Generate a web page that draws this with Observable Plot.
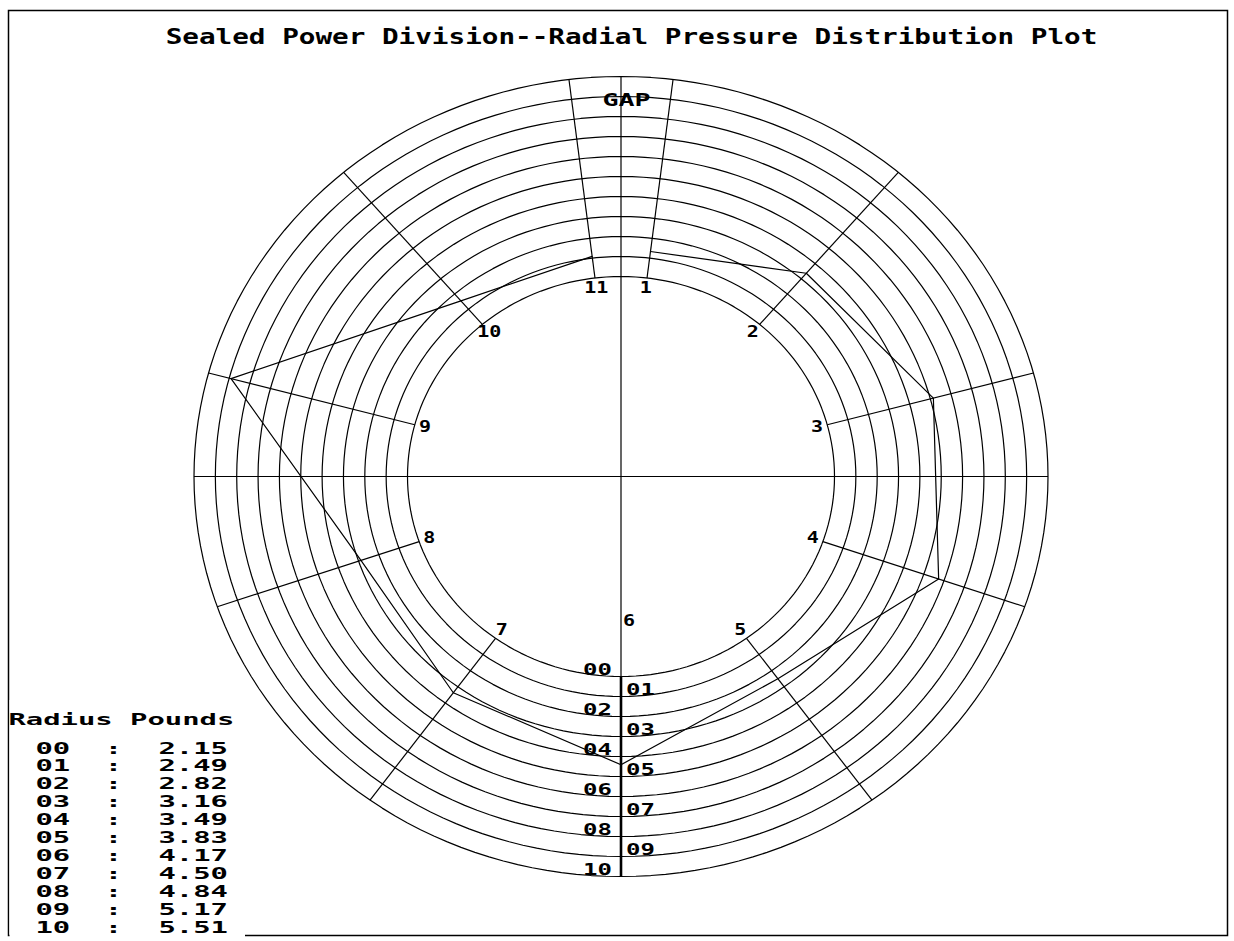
<!DOCTYPE html>
<html><head><meta charset="utf-8">
<script src="https://cdn.jsdelivr.net/npm/d3@7"></script>
<script src="https://cdn.jsdelivr.net/npm/@observablehq/plot@0.6"></script>
<style>
body{margin:0;background:#fff;}
</style></head><body><div id="chart"></div><script>
// ---- data ----
const title = "Sealed Power Division--Radial Pressure Distribution Plot";
const ringLabels = ["00","01","02","03","04","05","06","07","08","09","10"];
const ringPounds = [2.15,2.49,2.82,3.16,3.49,3.83,4.17,4.50,4.84,5.17,5.51];
const spokeLabels = ["1","2","3","4","5","6","7","8","9","10","11"];
const spokeAngles = [7,40.5,75,109,144,180,216,251,285,319.5,353]; // degrees clockwise from the gap
const spokePressure = [2.60,3.28,3.88,4.08,2.99,3.63,3.28,3.12,5.14,2.67,2.52];
const gapLabel = "GAP";
const legendHeader = "Radius Pounds";

// ---- layout ----
const W = 1234, H = 941, cx = 620.5, cy = 476, RX = 427, RY = 400;
const px2x = p => (p - cx) / RX, px2y = p => (cy - p) / RY;
const rad = a => a * Math.PI / 180;
const ringRho = ringLabels.map((_, k) => 0.5 + 0.05 * k);
const rhoOf = d3.scaleLinear().domain(ringPounds).range(ringRho);

const ringPts = ringLabels.flatMap((lab, k) =>
  d3.range(0, 361, 2).map(a => ({ring: lab, x: ringRho[k] * Math.sin(rad(a)), y: ringRho[k] * Math.cos(rad(a))})));
const spokes = spokeLabels.map((lab, i) => ({lab, s: Math.sin(rad(spokeAngles[i])), c: Math.cos(rad(spokeAngles[i]))}));
const pressurePts = spokeLabels.map((lab, i) => {
  const r = rhoOf(spokePressure[i]);
  return {lab, x: r * Math.sin(rad(spokeAngles[i])), y: r * Math.cos(rad(spokeAngles[i]))};
});
const rings = ringLabels.map((lab, k) => ({lab, k}));
const legendRows = ringLabels.map((lab, i) => ({lab, p: ringPounds[i].toFixed(2), i}));
const rowTop = 753, rowH = 17.9;

const font = {fontFamily: "DejaVu Sans Mono", fontWeight: "bold", fill: "black"};
const ln = {stroke: "black", strokeWidth: 1.2};

const svg = Plot.plot({
  width: W, height: H,
  marginLeft: 8, marginTop: 10, marginRight: 7, marginBottom: 6,
  x: {domain: [-1, 1], range: [cx - RX, cx + RX], axis: null},
  y: {domain: [-1, 1], range: [cy + RY, cy - RY], axis: null},
  style: {background: "white", overflow: "visible"},
  marks: [
    Plot.frame({stroke: "black", strokeWidth: 1.5}),
    Plot.rect([0], {x1: () => px2x(9.5), x2: () => px2x(245), y1: () => px2y(700), y2: () => px2y(945), fill: "white"}),
    Plot.line(ringPts, {x: "x", y: "y", z: "ring", ...ln}),
    Plot.link(spokes, {x1: d => 0.5 * d.s, y1: d => 0.5 * d.c, x2: d => d.s, y2: d => d.c, ...ln}),
    Plot.link([0], {x1: () => -1, y1: () => 0, x2: () => 1, y2: () => 0, ...ln}),
    Plot.link([0], {x1: () => 0, y1: () => 1, x2: () => 0, y2: () => -1, ...ln}),
    Plot.link([0], {x1: () => 0, y1: () => -0.5, x2: () => 0, y2: () => -1, stroke: "black", strokeWidth: 2.6}),
    Plot.line(pressurePts, {x: "x", y: "y", ...ln}),
    // spoke labels
    Plot.text(spokes.filter(d => d.lab !== "6"), {x: d => 0.475 * d.s, y: d => 0.475 * d.c, text: "lab", lineAnchor: "middle", fontSize: 16, ...font}),
    Plot.text(spokes.filter(d => d.lab === "6"), {x: () => 0, y: () => -0.36, text: "lab", dx: 2, textAnchor: "start", lineAnchor: "middle", fontSize: 16, ...font}),
    // ring labels on the bottom axis
    Plot.text(rings.filter(d => d.k % 2 === 0), {x: () => 0, y: d => -ringRho[d.k], text: "lab", dx: -9, dy: -2, textAnchor: "end", lineAnchor: "bottom", fontSize: 15, ...font}),
    Plot.text(rings.filter(d => d.k % 2 === 1), {x: () => 0, y: d => -ringRho[d.k], text: "lab", dx: 5, dy: -2, textAnchor: "start", lineAnchor: "bottom", fontSize: 15, ...font}),
    Plot.text([gapLabel], {x: () => px2x(626), y: () => px2y(105), text: d => d, lineAnchor: "bottom", fontSize: 18, ...font}),
    // title
    Plot.text([title], {x: () => px2x(631), y: () => px2y(43), text: d => d, lineAnchor: "bottom", fontSize: 22, ...font}),
    // legend
    Plot.text([legendHeader], {x: () => px2x(8), y: () => px2y(724), text: d => d, textAnchor: "start", lineAnchor: "bottom", fontSize: 16.5, ...font}),
    Plot.text(legendRows, {x: () => px2x(35), y: d => px2y(rowTop + d.i * rowH), text: "lab", textAnchor: "start", lineAnchor: "bottom", fontSize: 16.5, ...font}),
    Plot.text(legendRows, {x: () => px2x(113), y: d => px2y(rowTop + d.i * rowH), text: () => ":", lineAnchor: "bottom", fontSize: 16.5, ...font}),
    Plot.text(legendRows, {x: () => px2x(158), y: d => px2y(rowTop + d.i * rowH), text: "p", textAnchor: "start", lineAnchor: "bottom", fontSize: 16.5, ...font})
  ]
});

// stretch the monospace glyphs horizontally to mimic the wide bitmap font
function stretch(size, sx) {
  svg.querySelectorAll(`g[font-size="${size}"] text`).forEach(t => {
    let tr = t.getAttribute("transform") || "";
    let tx = 0, ty = 0;
    const ax = t.getAttribute("x"), ay = t.getAttribute("y");
    if (ax !== null && !isNaN(+ax) && ax.trim() !== "") { tx = +ax; t.removeAttribute("x"); }
    if (ay !== null && !isNaN(+ay) && ay.trim() !== "") { ty = +ay; t.removeAttribute("y"); }
    t.setAttribute("transform", `${tr} translate(${tx},${ty}) scale(${sx},1)`);
  });
}
stretch(22, 1.257);
stretch(16.5, 1.75);
stretch(15, 1.6);
stretch(16, 1.25);
stretch(18, 1.48);

document.getElementById("chart").appendChild(svg);
</script></body></html>
